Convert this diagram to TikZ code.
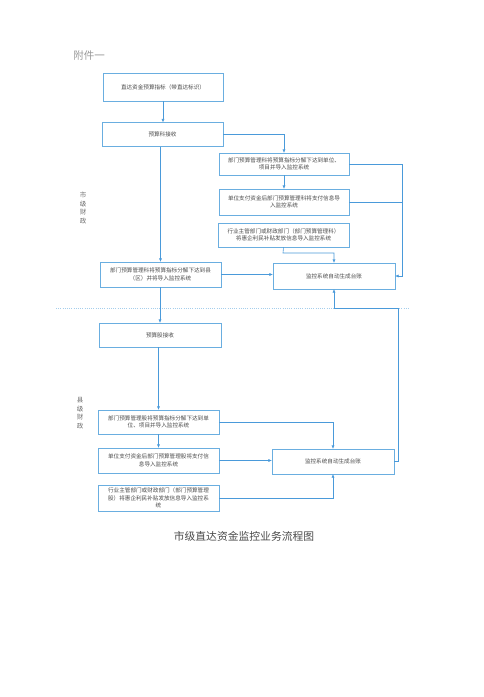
\documentclass[tikz,border=0pt]{standalone}
\usepackage{fontspec}
\newfontfamily\cjk{Noto Sans CJK SC}
\usetikzlibrary{arrows.meta}
\definecolor{boxblue}{HTML}{6AAEE0}
\definecolor{lineblue}{HTML}{4A9ADA}
\definecolor{txtgray}{HTML}{4A4A4A}
\tikzset{
  bx/.style={draw=boxblue, line width=0.7pt, inner sep=0pt, align=center,
    font=\cjk\fontsize{5.6}{7.6}\selectfont, text=txtgray},
  arr/.style={draw=lineblue, line width=0.6pt, -{Triangle[length=3.2pt,width=2.6pt]}},
  ln/.style={draw=lineblue, line width=0.6pt},
  side/.style={font=\cjk\fontsize{6.5}{8.5}\selectfont, text=txtgray!80, align=center, inner sep=0pt}
}
\begin{document}
\begin{tikzpicture}[x=1pt,y=-1pt]
\useasboundingbox[fill=white] (0,0) rectangle (483,697);

\node[font=\cjk\fontsize{10.5}{12}\selectfont, text=gray!80, inner sep=0pt] (fj) at (89,56) {附件一};

\node[side] (city) at (83,208) {市\\级\\财\\政};
\node[side] (county) at (80,413) {县\\级\\财\\政};

\node[bx, minimum width=120pt, minimum height=28pt] (b1) at (163,87) {直达资金预算指标（带直达标识）};
\node[bx, minimum width=121pt, minimum height=24pt] (b2) at (162.5,134.5) {预算科接收};
\node[bx, minimum width=130pt, minimum height=22pt] (b3) at (284,164) {部门预算管理科将预算指标分解下达到单位、\\项目并导入监控系统};
\node[bx, minimum width=130pt, minimum height=26pt] (b4) at (284,202) {单位支付资金后部门预算管理科将支付信息导\\入监控系统};
\node[bx, minimum width=131pt, minimum height=24pt] (b5) at (283.5,235) {行业主管部门或财政部门（部门预算管理科）\\将惠企利民补贴发放信息导入监控系统};
\node[bx, minimum width=121pt, minimum height=25pt] (b6) at (160.5,274.5) {部门预算管理科将预算指标分解下达到县\\（区）并将导入监控系统};
\node[bx, minimum width=122pt, minimum height=26pt] (b7) at (334,276) {监控系统自动生成台账};

\node[bx, minimum width=122pt, minimum height=24pt] (b8) at (160,335) {预算股接收};
\node[bx, minimum width=121pt, minimum height=24pt] (b9) at (158.5,422) {部门预算管理股将预算指标分解下达到单\\位、项目并导入监控系统};
\node[bx, minimum width=121pt, minimum height=25pt] (b10) at (158.5,460.5) {单位支付资金后部门预算管理股将支付信\\息导入监控系统};
\node[bx, minimum width=122pt, minimum height=25pt] (b11) at (333,461.5) {监控系统自动生成台账};
\node[bx, minimum width=121pt, minimum height=26pt] (b12) at (158.5,498) {行业主管部门或财政部门（部门预算管理\\股）将惠企利民补贴发放信息导入监控系\\统};

\node[font=\cjk\fontsize{10.8}{12}\selectfont, text=txtgray, inner sep=0pt] (title) at (244,536.5) {市级直达资金监控业务流程图};

% dotted divider
\draw[boxblue!60, line width=0.5pt, dash pattern=on 1pt off 1.2pt] (56,308) -- (410,308);

\coordinate (rl) at (402,0);
\coordinate (loop) at (398,308);
\coordinate (b5m) at (283,253);

\draw[arr] (b1.south) -- (b1.south |- b2.north);
\draw[arr] (b2.east) -| (b3.north);
\draw[arr] (b3.south) -- (b4.north);
\draw[arr] (b5.south) -- (b5m) -| (b7.north);
\draw[arr] (b3.east) -- (b3.east -| rl) |- (b7.east);
\draw[ln] (b4.east) -- (b4.east -| rl);
\draw[arr] (b6.north |- b2.south) -- (b6.north);
\draw[arr] (b6.east) -- (b6.east -| b7.west);
\draw[arr] (b8.north |- b6.south) -- (b8.north);
\draw[arr] (b9.north |- b8.south) -- (b9.north);
\draw[arr] (b9.south) -- (b10.north);
\draw[arr] (b9.east) -| (b11.north);
\draw[arr] (b10.east) -- (b10.east -| b11.west);
\draw[arr] (b12.east) -| (b11.south);
\draw[arr] (b11.east) -| (loop) -| (b7.south);
\end{tikzpicture}
\end{document}
